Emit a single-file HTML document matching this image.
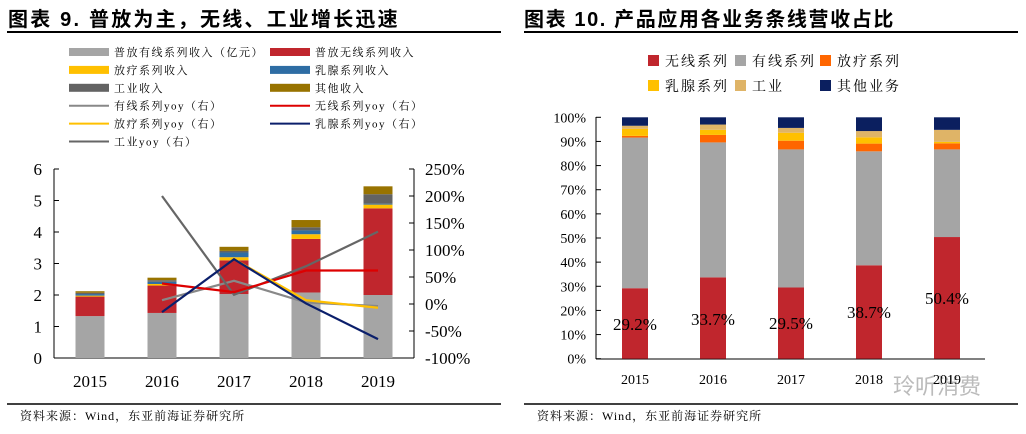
<!DOCTYPE html>
<html><head><meta charset="utf-8">
<style>
body{margin:0;width:1026px;height:434px;background:#fff;overflow:hidden;font-family:"Liberation Serif","Noto Serif CJK SC",serif;}
svg{position:absolute;left:0;top:0;}
</style></head>
<body>
<svg id="c" width="1026" height="434">
<text x="8" y="26" font-size="20" font-weight="bold" letter-spacing="2.2" font-family="Liberation Sans, Noto Sans CJK SC, sans-serif">图表 9.  普放为主，无线、工业增长迅速</text>
<line x1="7" y1="32" x2="501" y2="32" stroke="#000" stroke-width="2"/>
<text x="524" y="26" font-size="20" font-weight="bold" letter-spacing="1.6" font-family="Liberation Sans, Noto Sans CJK SC, sans-serif">图表 10. 产品应用各业务条线营收占比</text>
<line x1="524" y1="32" x2="1018" y2="32" stroke="#000" stroke-width="2"/>
<line x1="7" y1="404" x2="501" y2="404" stroke="#000" stroke-width="1.5"/>
<line x1="524" y1="404" x2="1018" y2="404" stroke="#000" stroke-width="1.5"/>
<text x="20" y="420" font-size="12" letter-spacing="1">资料来源：Wind，东亚前海证券研究所</text>
<text x="537" y="420" font-size="12" letter-spacing="1">资料来源：Wind，东亚前海证券研究所</text>
<text x="893" y="394" font-size="22" fill="#bbb" font-family="Noto Sans CJK SC, sans-serif">玲听消费</text>
<g id="L"></g><g id="R"></g>
</svg>
<script>
const years=['2015','2016','2017','2018','2019'];
const grayRev=[1.33,1.43,2.03,2.08,2.0];
const redRev=[0.62,0.87,1.07,1.70,2.75];
const yellowRev=[0.03,0.05,0.1,0.15,0.12];
const blueRev=[0.05,0.07,0.15,0.12,0.03];
const indRev=[0.04,0.05,0.05,0.1,0.3];
const otherRev=[0.05,0.08,0.13,0.23,0.25];
const wiredYoy=[null,7,43,3,-4];
const indYoy=[null,200,17,70,134];
const wirelessYoy=[null,38,22,62,62];
const radioYoy=[null,null,83,7,-7];
const breastYoy=[null,-15,83,1,-65];
const leftTicks=[0,1,2,3,4,5,6];
const rightTicks=[-100,-50,0,50,100,150,200,250];
const shareWireless=[29.2,33.7,29.5,38.7,50.4];
const shareWired=[62.4,55.9,57.2,47.2,36.3];
const shareRadio=[0.7,3.1,3.6,3.2,2.5];
const shareBreast=[2.9,2.1,3.3,2.6,0.6];
const shareInd=[1.3,2.2,2.0,2.6,5.0];
const shareOther=[3.5,3.0,4.4,5.7,5.2];
const pctTicks=[0,10,20,30,40,50,60,70,80,90,100];

const NS='http://www.w3.org/2000/svg';
function mk(p,t,a){const e=document.createElementNS(NS,t);for(const k in a)e.setAttribute(k,a[k]);p.appendChild(e);return e;}
const L=document.getElementById('L'),R=document.getElementById('R');
const yL=v=>358-v*31.5, yR=v=>304-v*27/50, xL=i=>90+i*72;
let e;
e=mk(L,'line',{x1:54,y1:169,x2:54,y2:358,stroke:'#000'});


e=mk(L,'line',{x1:54,y1:358,x2:414,y2:358,stroke:'#000'});


e=mk(L,'line',{x1:414,y1:169,x2:414,y2:358,stroke:'#000'});


leftTicks.forEach(v=>{mk(L,'line',{x1:54,x2:59,y1:yL(v),y2:yL(v),stroke:'#000'});
 e=mk(L,'text',{x:42,y:yL(v)+6,'font-size':17,'text-anchor':'end'});e.textContent=v;
 
 });
rightTicks.forEach(v=>{mk(L,'line',{x1:409,x2:414,y1:yR(v),y2:yR(v),stroke:'#000'});
 e=mk(L,'text',{x:425,y:yR(v)+6,'font-size':17});e.textContent=v+'%';
 
 });
const stackL=[[grayRev,'#a5a5a5'],[redRev,'#c0262d'],[yellowRev,'#ffc000'],[blueRev,'#2e6da4'],[indRev,'#636363'],[otherRev,'#987300']];
years.forEach((y,i)=>{let b=0;stackL.forEach(([arr,c])=>{const v=arr[i];
 e=mk(L,'rect',{x:xL(i)-14.5,y:yL(b+v),width:29,height:yL(b)-yL(b+v),fill:c});
 
 b+=v;});
 e=mk(L,'text',{x:xL(i),y:387,'font-size':17,'text-anchor':'middle'});e.textContent=y;
 
 });
const linesL=[[wiredYoy,'#888'],[indYoy,'#666'],[wirelessYoy,'#d00'],[radioYoy,'#ffc000'],[breastYoy,'#0b1f6b']];
linesL.forEach(([arr,c],k)=>{const pts=[];arr.forEach((v,i)=>{if(v!==null)pts.push(xL(i)+','+yR(v));});
 e=mk(L,'polyline',{points:pts.join(' '),fill:'none',stroke:c,'stroke-width':2.2});
 
 });
const legL=[['普放有线系列收入（亿元）','#a5a5a5',0],['普放无线系列收入','#c0262d',0],['放疗系列收入','#ffc000',0],['乳腺系列收入','#2e6da4',0],['工业收入','#636363',0],['其他收入','#987300',0],['有线系列yoy（右）','#888',1],['无线系列yoy（右）','#d00',1],['放疗系列yoy（右）','#ffc000',1],['乳腺系列yoy（右）','#0b1f6b',1],['工业yoy（右）','#666',1]];
legL.forEach(([t,c,ln],i)=>{const col=i%2,row=Math.floor(i/2);const x=col?270:69,y=52+row*17.9;
 if(ln)mk(L,'line',{x1:x,x2:x+40,y1:y,y2:y,stroke:c,'stroke-width':2});else mk(L,'rect',{x:x,y:y-4,width:40,height:8,fill:c});
 e=mk(L,'text',{x:x+45,y:y+4,'font-size':11,'letter-spacing':1.5});e.textContent=t;
 
 });
const yP=v=>358.7-v*2.414, xP=i=>635+i*78;
const labelRise=[34.7,39.7,35.7,46.7,60.7];
e=mk(R,'line',{x1:596,y1:117,x2:596,y2:359,stroke:'#000'});


e=mk(R,'line',{x1:596,y1:359,x2:985,y2:359,stroke:'#000'});


pctTicks.forEach(v=>{mk(R,'line',{x1:596,x2:601,y1:yP(v),y2:yP(v),stroke:'#000'});
 e=mk(R,'text',{x:586,y:yP(v)+5,'font-size':14,'text-anchor':'end'});e.textContent=v+'%';
 
 });
const stackR=[[shareWireless,'#c0262d'],[shareWired,'#a5a5a5'],[shareRadio,'#ff6600'],[shareBreast,'#ffc000'],[shareInd,'#dfb467'],[shareOther,'#0b1f5f']];
years.forEach((y,i)=>{let b=0;stackR.forEach(([arr,c])=>{const v=arr[i];
 e=mk(R,'rect',{x:xP(i)-13,y:yP(b+v),width:26,height:yP(b)-yP(b+v),fill:c});
 
 b+=v;});
 e=mk(R,'text',{x:xP(i),y:358.7-labelRise[i]+6,'font-size':17,'text-anchor':'middle'});
 e.textContent=shareWireless[i].toFixed(1)+'%';
 
 
 e=mk(R,'text',{x:xP(i),y:384,'font-size':14,'text-anchor':'middle'});e.textContent=y;
 
 });
const legR=[['无线系列','#c0262d'],['有线系列','#a5a5a5'],['放疗系列','#ff6600'],['乳腺系列','#ffc000'],['工业','#dfb467'],['其他业务','#0b1f5f']];
legR.forEach(([t,c],i)=>{const col=i%3,row=Math.floor(i/3);const x=[648,735,820][col],y=61+row*25;
 mk(R,'rect',{x:x,y:y-6,width:11,height:11,fill:c});
 e=mk(R,'text',{x:x+17,y:y+5,'font-size':14,'letter-spacing':2});e.textContent=t;
 
 });
</script>
</body></html>
